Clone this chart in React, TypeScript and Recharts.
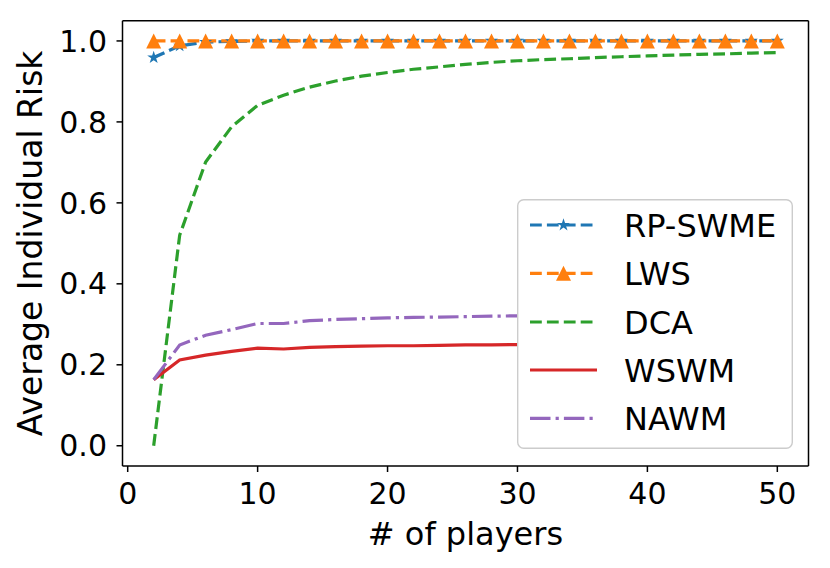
import React from "react";
import { Legend, Line, LineChart, XAxis, YAxis } from "recharts";

const FONT = "'DejaVu Sans', sans-serif";

const PLAYERS = [2, 4, 6, 8, 10, 12, 14, 16, 18, 20, 22, 24, 26, 28, 30, 32, 34, 36, 38, 40, 42, 44, 46, 48, 50];
const RP_SWME = [0.959, 0.988, 0.997, 0.999, 1, 1, 1, 1, 1, 1, 1, 1, 1, 1, 1, 1, 1, 1, 1, 1, 1, 1, 1, 1, 1];
const LWS = [1, 1, 1, 1, 1, 1, 1, 1, 1, 1, 1, 1, 1, 1, 1, 1, 1, 1, 1, 1, 1, 1, 1, 1, 1];
const DCA = [0.0, 0.52, 0.701, 0.788, 0.841, 0.866, 0.886, 0.901, 0.913, 0.922, 0.93, 0.936, 0.942, 0.947, 0.951, 0.954, 0.956, 0.959, 0.961, 0.963, 0.965, 0.967, 0.968, 0.97, 0.971];
const WSWM = [0.163, 0.212, 0.224, 0.233, 0.241, 0.239, 0.243, 0.245, 0.246, 0.247, 0.247, 0.248, 0.249, 0.249, 0.25, 0.25, 0.25, 0.251, 0.251, 0.251, 0.251, 0.252, 0.252, 0.252, 0.252];
const NAWM = [0.163, 0.249, 0.273, 0.287, 0.302, 0.302, 0.309, 0.312, 0.314, 0.316, 0.317, 0.318, 0.319, 0.32, 0.321, 0.321, 0.322, 0.322, 0.322, 0.323, 0.323, 0.323, 0.323, 0.324, 0.324];

const X_TICKS = [0, 10, 20, 30, 40, 50];
const Y_TICKS = [0, 0.2, 0.4, 0.6, 0.8, 1.0];

const data = PLAYERS.map((x, i) => ({
  x,
  rp: RP_SWME[i],
  lws: LWS[i],
  dca: DCA[i],
  wswm: WSWM[i],
  nawm: NAWM[i],
}));

type Marker = "star" | "triangle" | null;

const SERIES: { key: string; name: string; color: string; dash?: string; marker: Marker }[] = [
  { key: "rp", name: "RP-SWME", color: "#1f77b4", dash: "11.8 5.1", marker: "star" },
  { key: "lws", name: "LWS", color: "#ff7f0e", dash: "11.8 5.1", marker: "triangle" },
  { key: "dca", name: "DCA", color: "#2ca02c", dash: "11.8 5.1", marker: null },
  { key: "wswm", name: "WSWM", color: "#d62728", marker: null },
  { key: "nawm", name: "NAWM", color: "#9467bd", dash: "20.5 5.1 3.2 5.1", marker: null },
];

function starPoints(cx: number, cy: number, r: number) {
  const pts: string[] = [];
  for (let i = 0; i < 10; i++) {
    const rad = i % 2 === 0 ? r : r * 0.381;
    const a = -Math.PI / 2 + (i * Math.PI) / 5;
    pts.push(`${cx + rad * Math.cos(a)},${cy + rad * Math.sin(a)}`);
  }
  return pts.join(" ");
}

function trianglePoints(cx: number, cy: number, h: number) {
  return `${cx},${cy - h} ${cx - h},${cy + h} ${cx + h},${cy + h}`;
}

function markerShape(kind: Marker, cx: number, cy: number, color: string, key?: any) {
  if (kind === "star") return <polygon key={key} points={starPoints(cx, cy, 6.8)} fill={color} />;
  if (kind === "triangle") return <polygon key={key} points={trianglePoints(cx, cy, 7.5)} fill={color} />;
  return null;
}

function LegendBox() {
  const rows = [26, 74.3, 123, 171, 219.3];
  return (
    <svg width={276} height={250} style={{ display: "block" }}>
      <rect x={0.7} y={0.7} width={274.6} height={248.6} rx={6} fill="#fff" stroke="#cccccc" strokeWidth={1.4} />
      {SERIES.map((s, i) => (
        <g key={s.key}>
          <line x1={13} x2={80} y1={rows[i]} y2={rows[i]} stroke={s.color} strokeWidth={3.2} strokeDasharray={s.dash} />
          {markerShape(s.marker, 46.5, rows[i], s.color)}
          <text x={107} y={rows[i]} dy="0.36em" fontSize={32} fontFamily={FONT} fill="#000">
            {s.name}
          </text>
        </g>
      ))}
    </svg>
  );
}

function YLabel(props: any) {
  const vb = props.viewBox || { x: 0, y: 20.7, width: 122.5, height: 445.3 };
  const cx = 41.7;
  const cy = vb.y + vb.height / 2;
  return (
    <text x={cx} y={cy} transform={`rotate(-90 ${cx} ${cy})`} textAnchor="middle" fontSize={33} fontFamily={FONT} fill="#000">
      Average Individual Risk
    </text>
  );
}

const axisStroke = { stroke: "#000", strokeWidth: 1.5 };

export default function App() {
  return (
    <div style={{ position: "absolute", left: 0, top: 0, width: 830, height: 568, background: "#fff" }}>
      <LineChart width={830} height={568} data={data} margin={{ top: 19.7, right: 20.5, bottom: 0, left: 0 }}>
        <XAxis
          dataKey="x"
          type="number"
          domain={[-0.4, 52.4]}
          allowDataOverflow
          ticks={X_TICKS}
          height={102}
          tickSize={6}
          tickMargin={11}
          axisLine={axisStroke}
          tickLine={axisStroke}
          tick={{ fill: "#000", fontSize: 30, fontFamily: FONT }}
          label={{ value: "# of players", position: "insideBottom", offset: 23, style: { fill: "#000", fontSize: 32, fontFamily: FONT } }}
        />
        <XAxis xAxisId="top" orientation="top" dataKey="x" type="number" domain={[-0.4, 52.4]} allowDataOverflow height={1} ticks={X_TICKS} tick={false} tickLine={false} axisLine={axisStroke} />
        <YAxis
          type="number"
          domain={[-0.05, 1.05]}
          allowDataOverflow
          ticks={Y_TICKS}
          width={122.5}
          tickSize={6}
          tickMargin={9.5}
          tickFormatter={(v: number) => v.toFixed(1)}
          axisLine={axisStroke}
          tickLine={axisStroke}
          tick={{ fill: "#000", fontSize: 30, fontFamily: FONT }}
          label={{ content: YLabel }}
        />
        <YAxis yAxisId="right" orientation="right" type="number" domain={[-0.05, 1.05]} allowDataOverflow width={1} ticks={Y_TICKS} tick={false} tickLine={false} axisLine={axisStroke} />
        {SERIES.map((s) => (
          <Line
            key={s.key}
            dataKey={s.key}
            name={s.name}
            type="linear"
            stroke={s.color}
            strokeWidth={3.2}
            strokeDasharray={s.dash}
            isAnimationActive={false}
            activeDot={false}
            dot={
              s.marker
                ? (p: any) => (p.cx == null ? null : markerShape(s.marker, p.cx, p.cy, s.color, `${s.key}-${p.index}`))
                : false
            }
          />
        ))}
        <Legend
          layout="horizontal"
          verticalAlign="middle"
          align="center"
          content={() => <LegendBox />}
          wrapperStyle={{ position: "absolute", left: 517, top: 199, width: 276, height: 250, margin: 0, padding: 0 }}
        />
      </LineChart>
    </div>
  );
}
